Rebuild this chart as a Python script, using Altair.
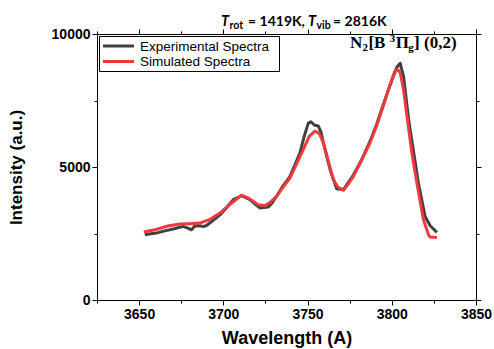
import altair as alt
import pandas as pd

# ---------------- data ----------------
exp_wl = [3653.4, 3656, 3660.3, 3664, 3668.2, 3672, 3676.1, 3679, 3681.1, 3683, 3686, 3688,
          3690, 3694, 3698, 3702, 3705.9, 3710.8, 3715.8, 3719, 3721.7, 3724, 3726.7, 3729,
          3731.6, 3735, 3739.6, 3745.5, 3748, 3750.4, 3752, 3754, 3756.4, 3758, 3759.4,
          3763.4, 3767.3, 3771.3, 3774, 3777.2, 3782, 3787.1, 3791, 3795, 3800, 3803, 3805,
          3807, 3810, 3815.8, 3819.8, 3822.8, 3826.8]
exp_int = [2453, 2480, 2515, 2580, 2640, 2700, 2767, 2700, 2640, 2780, 2790, 2760,
           2800, 3000, 3200, 3480, 3770, 3920, 3770, 3600, 3460, 3480, 3500, 3650,
           3900, 4250, 4650, 5535, 6150, 6640, 6700, 6580, 6540, 6300, 5910,
           4900, 4180, 4150, 4400, 4700, 5250, 5970, 6600, 7360, 8250, 8750, 8900,
           8400, 6790, 4400, 3140, 2790, 2540]

sim_wl = [3652.8, 3660, 3667, 3674.2, 3680, 3686, 3692, 3698, 3704, 3710.8, 3715, 3720.7,
          3724.7, 3728, 3731.6, 3735, 3739.6, 3743, 3747.5, 3751, 3754.4, 3757, 3759.4,
          3762, 3765.3, 3768, 3771.3, 3774, 3777.2, 3782, 3787.1, 3791, 3795, 3799, 3801.5,
          3803.2, 3805, 3807, 3809, 3812, 3814.9, 3818.8, 3821.8, 3822.8, 3826.8]
sim_int = [2553, 2650, 2780, 2855, 2870, 2893, 3030, 3270, 3600, 3937, 3830, 3585,
           3547, 3680, 3900, 4200, 4590, 5050, 5660, 6150, 6350, 6250, 5910,
           5300, 4530, 4250, 4125, 4350, 4650, 5250, 5910, 6550, 7300, 8100, 8550,
           8680, 8550, 7900, 6920, 5500, 4400, 3020, 2450, 2365, 2350]

series = ["Experimental Spectra", "Simulated Spectra"]
colors = ["#404040", "#ee3a3c"]

x_ticks = [3625, 3650, 3675, 3700, 3725, 3750, 3775, 3800, 3825, 3850]
y_ticks = [0, 2500, 5000, 7500, 10000]

title_pieces = ["T", "rot", "= 1419K,", "T", "vib", "= 2816K"]
annot_pieces = ["N", "2", "[B", "3", "\u03a0", "g", "] (0,2)"]

x_title = "Wavelength (A)"
y_title = "Intensity (a.u.)"

# ---------------- tables ----------------
df = pd.concat([
    pd.DataFrame({"wl": exp_wl, "I": exp_int, "series": series[0]}),
    pd.DataFrame({"wl": sim_wl, "I": sim_int, "series": series[1]}),
])
one = pd.DataFrame({"a": [0]})

SANS = "Liberation Sans"
xscale = alt.Scale(domain=[3625, 3850], nice=False, zero=False)
yscale = alt.Scale(domain=[0, 10000], nice=False)
xtick_size = {"condition": {"test": "datum.value % 50 === 0", "value": 5}, "value": 3}
ytick_size = {"condition": {"test": "datum.value % 5000 === 0", "value": 5}, "value": 3}

lines = alt.Chart(df).mark_line(strokeWidth=3, strokeJoin="round").encode(
    x=alt.X("wl:Q", scale=xscale, title=x_title,
            axis=alt.Axis(values=x_ticks, format="d",
                          labelExpr="datum.value % 50 === 0 ? datum.label : ''",
                          tickSize=xtick_size, labelFont=SANS, labelFontSize=14,
                          labelFontWeight="bold", labelColor="black", labelPadding=2,
                          titleFont=SANS, titleFontSize=18, titleFontWeight="bold",
                          titleColor="black", titlePadding=8,
                          domainColor="black", tickColor="black", grid=False,
                          labelFlush=False)),
    y=alt.Y("I:Q", scale=yscale, title=y_title,
            axis=alt.Axis(values=y_ticks, format="d",
                          labelExpr="datum.value % 5000 === 0 ? datum.label : ''",
                          tickSize=ytick_size, labelFont=SANS, labelFontSize=14,
                          labelFontWeight="bold", labelColor="black", labelPadding=2,
                          titleFont=SANS, titleFontSize=17, titleFontWeight="bold",
                          titleColor="black", titlePadding=26,
                          domainColor="black", tickColor="black", grid=False,
                          labelFlush=False)),
    color=alt.Color("series:N", scale=alt.Scale(domain=series, range=colors), legend=None),
)

frame = alt.Chart(df).mark_line(strokeOpacity=0).encode(
    x=alt.X("wl:Q", scale=xscale,
            axis=alt.Axis(orient="top", values=x_ticks, labels=False, title=None,
                          tickSize=xtick_size, domainColor="black", tickColor="black",
                          grid=False)),
    y=alt.Y("I:Q", scale=yscale,
            axis=alt.Axis(orient="right", values=y_ticks, labels=False, title=None,
                          tickSize=ytick_size, domainColor="black", tickColor="black",
                          grid=False)),
)

# ---------------- manual legend ----------------
leg_box = alt.Chart(one).mark_rect(fill="white", stroke="black", strokeWidth=1).encode(
    x=alt.value(2.5), x2=alt.value(182.5), y=alt.value(2.5), y2=alt.value(37.5))
leg_l1 = alt.Chart(one).mark_rule(strokeWidth=3, color=colors[0]).encode(
    x=alt.value(6), x2=alt.value(37), y=alt.value(12))
leg_l2 = alt.Chart(one).mark_rule(strokeWidth=3, color=colors[1]).encode(
    x=alt.value(6), x2=alt.value(37), y=alt.value(27.5))
leg_t1 = alt.Chart(one).mark_text(text=series[0], font=SANS, fontSize=13.5, align="left",
                                  baseline="middle", color="black").encode(
    x=alt.value(43), y=alt.value(12.5))
leg_t2 = alt.Chart(one).mark_text(text=series[1], font=SANS, fontSize=13.5, align="left",
                                  baseline="middle", color="black").encode(
    x=alt.value(43), y=alt.value(28))

# ---------------- title pieces ----------------
OX, OY = 97, 34
def piece(txt, x, y, size, italic=False, font="Lato", weight="bold"):
    return alt.Chart(one).mark_text(text=txt, font=font, fontSize=size, fontWeight=weight,
                                    fontStyle="italic" if italic else "normal",
                                    align="left", baseline="alphabetic", color="black").encode(
        x=alt.value(x - OX), y=alt.value(y - OY))

title_layers = [
    piece(title_pieces[0], 221, 25.5, 14.5, italic=True),
    piece(title_pieces[1], 229.5, 28.5, 10.5),
    piece(title_pieces[2], 248, 25.5, 14),
    piece(title_pieces[3], 308, 25.5, 14.5, italic=True),
    piece(title_pieces[4], 316.5, 28.5, 10.5),
    piece(title_pieces[5], 333, 25.5, 14),
]

SERIF = "Liberation Serif"
annot_layers = [
    piece(annot_pieces[0], 350, 48, 17, font=SERIF),
    piece(annot_pieces[1], 362.5, 51, 11, font=SERIF),
    piece(annot_pieces[2], 368.4, 48, 17, font=SERIF),
    piece(annot_pieces[3], 389.8, 42, 11, font=SERIF),
    piece(annot_pieces[4], 395.7, 48, 17, font=SERIF),
    piece(annot_pieces[5], 408.2, 51, 11, font=SERIF),
    piece(annot_pieces[6], 414.1, 48, 17, font=SERIF),
]

chart = alt.layer(
    frame, lines, leg_box, leg_l1, leg_l2, leg_t1, leg_t2, *title_layers, *annot_layers
).resolve_axis(x="independent", y="independent").properties(
    width=379, height=266,
    autosize=alt.AutoSizeParams(type="none"),
    padding={"left": 97, "top": 34, "right": 18, "bottom": 49},
    background="white",
).configure_view(stroke="black", strokeWidth=1)

chart.save("out.html", embed_options={"renderer": "svg", "actions": False})
